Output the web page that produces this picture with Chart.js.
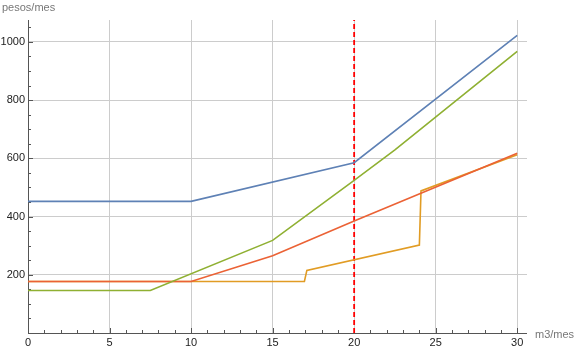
<!DOCTYPE html>
<html>
<head>
<meta charset="utf-8">
<script src="https://cdn.jsdelivr.net/npm/chart.js@4"></script>
<style>
  html, body { margin: 0; padding: 0; background: #fff; }
  #wrap { width: 576px; height: 351px; }
</style>
</head>
<body>
<div id="wrap"><canvas id="tarifas"></canvas></div>
<script>
// consumo (m3/mes) vs. costo (pesos/mes)
var xBlue = [0, 10, 20, 30];
var yBlue = [452, 452, 585, 1022];
var xGreen = [0, 7.5, 15, 20, 22.5, 30];
var yGreen = [146, 146, 318, 524, 629, 967];
var xRed = [0, 10, 15, 20, 30];
var yRed = [177, 177, 265, 385, 617];
var xOrange = [0, 16.95, 17.1, 24, 24.1, 30];
var yOrange = [177, 177, 215, 302, 488, 612];
var xLimit = 20;

var xMax = 30.6, yMax = 1075;
var fontFam = '"Liberation Sans", Arial, sans-serif';

function toPoints(xs, ys) {
    var pts = [];
    for (var i = 0; i < xs.length; i++) {
        pts.push({ x: xs[i], y: ys[i] });
    }
    return pts;
}

function lineSet(xs, ys, color) {
    return {
        data: toPoints(xs, ys),
        borderColor: color,
        borderWidth: 1.6,
        pointRadius: 0,
        showLine: true,
        fill: false,
        tension: 0
    };
}

// axes with inward ticks, drawn like the original
var axesPlugin = {
    id: 'axes',
    beforeDatasetsDraw: function (chart) {
        var ctx = chart.ctx;
        var xs = chart.scales.x, ys = chart.scales.y;
        var x0 = xs.getPixelForValue(0), y0 = ys.getPixelForValue(0);
        var area = chart.chartArea;
        ctx.save();
        ctx.strokeStyle = '#555555';
        ctx.lineWidth = 1;
        ctx.beginPath();
        ctx.moveTo(area.left, y0 + 0.5);
        ctx.lineTo(area.right, y0 + 0.5);
        ctx.moveTo(x0 + 0.5, area.top);
        ctx.lineTo(x0 + 0.5, area.bottom);
        var i, p, len;
        for (i = 1; i <= 30; i++) {
            p = Math.round(xs.getPixelForValue(i)) + 0.5;
            len = (i % 5 === 0) ? 5 : 3;
            ctx.moveTo(p, y0);
            ctx.lineTo(p, y0 - len);
        }
        for (i = 50; i <= 1050; i += 50) {
            p = Math.round(ys.getPixelForValue(i)) + 0.5;
            len = (i % 200 === 0) ? 5 : 3;
            ctx.moveTo(x0, p);
            ctx.lineTo(x0 + len, p);
        }
        ctx.stroke();

        ctx.fillStyle = '#777777';
        ctx.font = '11px ' + fontFam;
        ctx.textBaseline = 'alphabetic';
        ctx.textAlign = 'left';
        ctx.fillText('pesos/mes', 2, 11);
        ctx.textBaseline = 'middle';
        ctx.fillText('m3/mes', 535, 335);
        ctx.restore();
    }
};

var ctx = document.getElementById('tarifas').getContext('2d');
var chart = new Chart(ctx, {
    type: 'scatter',
    data: {
        datasets: [
            lineSet(xBlue, yBlue, '#5e81b5'),
            lineSet(xGreen, yGreen, '#8fb032'),
            lineSet(xRed, yRed, '#eb6235'),
            lineSet(xOrange, yOrange, '#e19c24'),
            {
                data: [{ x: xLimit, y: 0 }, { x: xLimit, y: yMax }],
                borderColor: '#ff0000',
                borderWidth: 1.8,
                borderDash: [5, 3],
                pointRadius: 0,
                showLine: true,
                fill: false
            }
        ]
    },
    options: {
        responsive: true,
        maintainAspectRatio: false,
        animation: false,
        layout: { padding: { top: 20, right: 49, left: 0, bottom: 0 } },
        plugins: {
            legend: { display: false },
            tooltip: { enabled: false }
        },
        scales: {
            x: {
                type: 'linear',
                min: 0,
                max: xMax,
                afterFit: function (scale) { scale.height = 18; },
                grid: { color: '#cccccc', drawTicks: false },
                border: { display: false },
                ticks: {
                    stepSize: 5,
                    includeBounds: false,
                    padding: 3,
                    maxRotation: 0,
                    color: '#222222',
                    font: { family: fontFam, size: 11 }
                }
            },
            y: {
                type: 'linear',
                min: 0,
                max: yMax,
                afterFit: function (scale) { scale.width = 28; },
                grid: { color: '#cccccc', drawTicks: false },
                border: { display: false },
                ticks: {
                    stepSize: 200,
                    includeBounds: false,
                    padding: 3,
                    color: '#222222',
                    font: { family: fontFam, size: 11 },
                    callback: function (v) { return v === 0 ? '' : v; }
                }
            }
        }
    },
    plugins: [axesPlugin]
});
</script>
</body>
</html>
